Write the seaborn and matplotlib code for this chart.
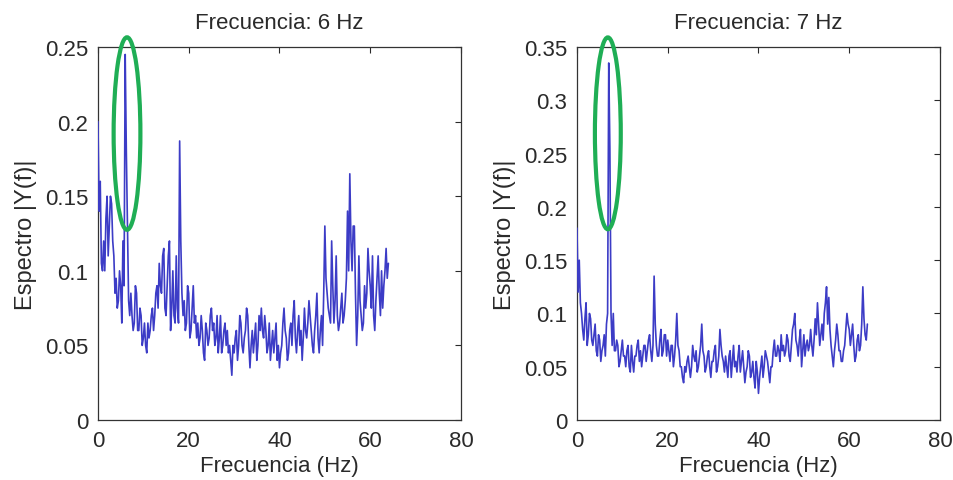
import numpy as np
import pandas as pd
import matplotlib.pyplot as plt
import seaborn as sns
from matplotlib.patches import Ellipse
from matplotlib.ticker import FuncFormatter

# frequency grid (Hz), 0.25 Hz step
freq = np.arange(0, 64.01, 0.25)

# spectrum for the 6 Hz stimulus (4 samples per Hz)
spec_6hz = [
    0.20, 0.14, 0.16, 0.105, 0.10, 0.12, 0.10, 0.135,
    0.15, 0.11, 0.13, 0.15, 0.145, 0.12, 0.11, 0.085,
    0.095, 0.075, 0.08, 0.10, 0.09, 0.065, 0.12, 0.09,
    0.245, 0.18, 0.13, 0.08, 0.07, 0.085, 0.07, 0.06,
    0.065, 0.09, 0.085, 0.06, 0.06, 0.075, 0.07, 0.05,
    0.055, 0.065, 0.05, 0.045, 0.065, 0.055, 0.06, 0.07,
    0.075, 0.06, 0.07, 0.085, 0.09, 0.075, 0.105, 0.09,
    0.085, 0.11, 0.115, 0.075, 0.07, 0.09, 0.11, 0.12,
    0.06, 0.075, 0.10, 0.07, 0.065, 0.11, 0.075, 0.065,
    0.187, 0.12, 0.085, 0.07, 0.08, 0.06, 0.065, 0.09,
    0.085, 0.055, 0.06, 0.075, 0.09, 0.065, 0.07, 0.055,
    0.065, 0.05, 0.055, 0.07, 0.06, 0.045, 0.04, 0.065,
    0.06, 0.05, 0.055, 0.07, 0.075, 0.06, 0.065, 0.05,
    0.055, 0.07, 0.045, 0.055, 0.07, 0.045, 0.05, 0.06,
    0.065, 0.05, 0.06, 0.045, 0.05, 0.04, 0.03, 0.05,
    0.045, 0.055, 0.06, 0.04, 0.05, 0.07, 0.065, 0.05,
    0.045, 0.055, 0.06, 0.075, 0.07, 0.05, 0.035, 0.05,
    0.06, 0.045, 0.055, 0.065, 0.04, 0.05, 0.07, 0.06,
    0.075, 0.06, 0.055, 0.07, 0.06, 0.045, 0.05, 0.065,
    0.04, 0.05, 0.06, 0.045, 0.055, 0.065, 0.04, 0.05,
    0.035, 0.045, 0.05, 0.065, 0.075, 0.06, 0.055, 0.04,
    0.045, 0.06, 0.065, 0.05, 0.07, 0.08, 0.055, 0.045,
    0.06, 0.07, 0.05, 0.06, 0.04, 0.055, 0.075, 0.06,
    0.055, 0.065, 0.08, 0.07, 0.06, 0.05, 0.045, 0.06,
    0.07, 0.085, 0.055, 0.045, 0.06, 0.07, 0.05, 0.085,
    0.13, 0.095, 0.085, 0.075, 0.07, 0.065, 0.12, 0.09,
    0.065, 0.08, 0.11, 0.07, 0.06, 0.065, 0.075, 0.085,
    0.065, 0.07, 0.08, 0.095, 0.14, 0.10, 0.165, 0.12,
    0.10, 0.13, 0.13, 0.085, 0.05, 0.07, 0.11, 0.08,
    0.07, 0.06, 0.065, 0.09, 0.075, 0.085, 0.115, 0.10,
    0.09, 0.075, 0.11, 0.07, 0.06, 0.08, 0.095, 0.11,
    0.085, 0.07, 0.10, 0.075, 0.09, 0.10, 0.115, 0.095,
    0.105,
]

# spectrum for the 7 Hz stimulus (4 samples per Hz)
spec_7hz = [
    0.18, 0.12, 0.15, 0.11, 0.10, 0.085, 0.075, 0.095,
    0.11, 0.07, 0.08, 0.10, 0.095, 0.075, 0.07, 0.08,
    0.09, 0.065, 0.06, 0.08, 0.075, 0.055, 0.065, 0.07,
    0.08, 0.06, 0.09, 0.10, 0.335, 0.255, 0.10, 0.07,
    0.10, 0.065, 0.065, 0.075, 0.07, 0.05, 0.055, 0.065,
    0.075, 0.06, 0.06, 0.05, 0.065, 0.07, 0.05, 0.045,
    0.07, 0.055, 0.045, 0.06, 0.06, 0.07, 0.075, 0.055,
    0.065, 0.05, 0.06, 0.07, 0.07, 0.055, 0.065, 0.075,
    0.08, 0.065, 0.055, 0.07, 0.135, 0.09, 0.07, 0.06,
    0.06, 0.075, 0.085, 0.06, 0.065, 0.08, 0.08, 0.06,
    0.075, 0.065, 0.055, 0.07, 0.07, 0.05, 0.06, 0.075,
    0.10, 0.07, 0.065, 0.05, 0.05, 0.04, 0.035, 0.05,
    0.045, 0.055, 0.06, 0.05, 0.04, 0.05, 0.07, 0.06,
    0.055, 0.065, 0.045, 0.05, 0.06, 0.07, 0.09, 0.065,
    0.06, 0.045, 0.05, 0.06, 0.065, 0.05, 0.04, 0.055,
    0.055, 0.065, 0.07, 0.045, 0.05, 0.06, 0.085, 0.07,
    0.06, 0.055, 0.045, 0.06, 0.05, 0.04, 0.06, 0.065,
    0.04, 0.055, 0.07, 0.05, 0.055, 0.045, 0.06, 0.07,
    0.045, 0.055, 0.065, 0.05, 0.035, 0.045, 0.05, 0.065,
    0.06, 0.04, 0.045, 0.055, 0.04, 0.03, 0.055, 0.045,
    0.025, 0.04, 0.05, 0.06, 0.04, 0.05, 0.065, 0.06,
    0.055, 0.045, 0.035, 0.05, 0.05, 0.065, 0.075, 0.06,
    0.06, 0.07, 0.065, 0.055, 0.08, 0.065, 0.07, 0.06,
    0.065, 0.08, 0.075, 0.06, 0.055, 0.07, 0.085, 0.09,
    0.10, 0.075, 0.07, 0.06, 0.075, 0.085, 0.05, 0.065,
    0.08, 0.06, 0.07, 0.075, 0.065, 0.07, 0.085, 0.07,
    0.06, 0.075, 0.095, 0.08, 0.11, 0.09, 0.07, 0.08,
    0.09, 0.075, 0.10, 0.11, 0.125, 0.09, 0.115, 0.085,
    0.07, 0.06, 0.05, 0.065, 0.075, 0.09, 0.08, 0.065,
    0.065, 0.055, 0.055, 0.065, 0.07, 0.085, 0.10, 0.09,
    0.085, 0.07, 0.08, 0.09, 0.07, 0.055, 0.06, 0.075,
    0.08, 0.065, 0.07, 0.09, 0.125, 0.095, 0.08, 0.075,
    0.09,
]

titles = ['Frecuencia: 6 Hz', 'Frecuencia: 7 Hz']
ymax = [0.25, 0.35]
xticks = [0, 20, 40, 60, 80]

sns.set_style('white')
plt.rcParams['font.family'] = ['Liberation Sans', 'DejaVu Sans']

fig = plt.figure(figsize=(9.54, 4.81), dpi=100)
ax1 = fig.add_axes([0.1027, 0.1247, 0.3805, 0.7755])
ax2 = fig.add_axes([0.6048, 0.1247, 0.3805, 0.7755])

fmt = FuncFormatter(lambda v, p: ('%g' % round(v, 3)))
txt = '#2a2a2a'

for ax, spec, title, top in zip([ax1, ax2], [spec_6hz, spec_7hz], titles, ymax):
    df = pd.DataFrame({'f': freq, 'amp': spec})
    sns.lineplot(data=df, x='f', y='amp', ax=ax, color='#3c3cc6', lw=1.2,
                 estimator=None, zorder=3)
    ax.set_xlim(0, 80)
    ax.set_ylim(0, top)
    ax.set_xticks(xticks)
    ax.set_yticks(np.arange(0, top + 0.001, 0.05))
    ax.yaxis.set_major_formatter(fmt)
    ax.tick_params(direction='in', length=4, width=0.8, top=True, right=True,
                   labelsize=16, colors=txt, pad=7)
    for s in ax.spines.values():
        s.set_color('#333333')
        s.set_linewidth(0.9)
    ax.set_title(title, fontsize=16, pad=14, color=txt)
    ax.set_xlabel('Frecuencia (Hz)', fontsize=16, color=txt, labelpad=3)
    ax.set_ylabel('Espectro |Y(f)|', fontsize=17, color=txt, labelpad=6)

# green ellipses marking the stimulus peak
ax1.add_patch(Ellipse((6.4, 0.192), 5.9, 0.129, fill=False, ec='#1fae55',
                      lw=3, clip_on=False, zorder=5))
ax2.add_patch(Ellipse((6.8, 0.269), 5.7, 0.180, fill=False, ec='#1fae55',
                      lw=3, clip_on=False, zorder=5))

plt.savefig('out.png', dpi=100)
plt.close()
